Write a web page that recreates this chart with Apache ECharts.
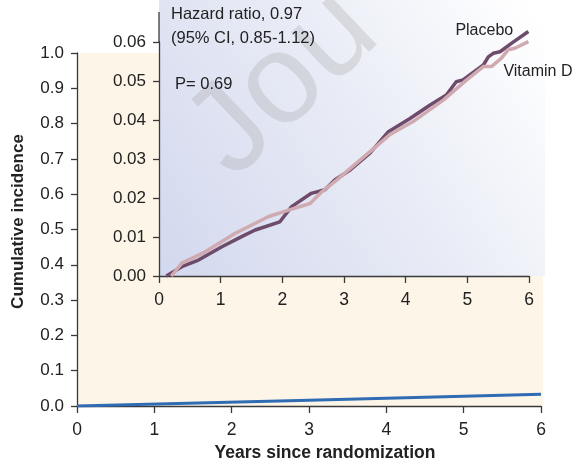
<!DOCTYPE html>
<html>
<head>
<meta charset="utf-8">
<script src="https://cdn.jsdelivr.net/npm/echarts/dist/echarts.min.js"></script>
<style>
html,body{margin:0;padding:0;background:#ffffff;}
#main{width:575px;height:464px;}
</style>
</head>
<body>
<div id="main"></div>
<script>
// ---- data ----
const outerXTicks = [0, 1, 2, 3, 4, 5, 6];
const outerYMax = 1.0;
const insetYMax = 0.06;
const overallLine = [[0, 0], [3, 0.016], [6, 0.033]];
const placebo = [[0.12,0],[0.37,0.0024],[0.64,0.0041],[1.02,0.0075],[1.34,0.0101],[1.56,0.0118],[1.96,0.0139],[2.15,0.0178],[2.47,0.0212],[2.69,0.0221],[2.85,0.0246],[3.10,0.0272],[3.42,0.0315],[3.72,0.037],[4.07,0.0404],[4.39,0.0438],[4.66,0.0464],[4.82,0.0498],[4.93,0.0503],[5.26,0.0541],[5.34,0.0562],[5.42,0.0571],[5.53,0.0575],[5.72,0.0597],[5.99,0.0627]];
const vitaminD = [[0.2,0],[0.37,0.0033],[0.75,0.0062],[1.23,0.0109],[1.77,0.0152],[2.10,0.0169],[2.45,0.0186],[2.64,0.0216],[2.88,0.0246],[3.26,0.0297],[3.74,0.0362],[4.12,0.0396],[4.61,0.0451],[4.99,0.0503],[5.26,0.0537],[5.39,0.0537],[5.55,0.0558],[5.66,0.058],[5.77,0.0584],[5.99,0.0601]];
const seriesNames = ['Placebo', 'Vitamin D'];
const annotations = ['Hazard ratio, 0.97', '(95% CI, 0.85-1.12)', 'P= 0.69'];
const xAxisTitle = 'Years since randomization';
const yAxisTitle = 'Cumulative incidence';

const FONT = '"Liberation Sans", Arial, Helvetica, sans-serif';
const AX = '#3a3a3a';
const TXT = '#222222';

const chart = echarts.init(document.getElementById('main'), null, {renderer: 'canvas'});

const axisCommon = {
  axisLine: {show: true, lineStyle: {color: AX, width: 1.3}},
  axisTick: {show: true, length: 7, lineStyle: {color: AX, width: 1.3}},
  splitLine: {show: false},
};

const option = {
  animation: false,
  backgroundColor: '#ffffff',
  grid: [
    {left: 77, top: 53, width: 464, height: 353, show: false, containLabel: false, outerBoundsMode: 'none'},
    {left: 159, top: 42, width: 370, height: 234, show: false, containLabel: false, outerBoundsMode: 'none'}
  ],
  xAxis: [
    Object.assign({}, axisCommon, {
      gridIndex: 0, type: 'value', min: 0, max: 6, interval: 1,
      axisLabel: {margin: 15, fontSize: 17.5, color: TXT, fontFamily: FONT},
      name: xAxisTitle, nameLocation: 'middle', nameGap: 37,
      nameTextStyle: {fontSize: 17.5, fontWeight: 'bold', color: TXT, fontFamily: FONT, padding: [0, 0, 0, 32]}
    }),
    Object.assign({}, axisCommon, {
      gridIndex: 1, type: 'value', min: 0, max: 6, interval: 1,
      axisLabel: {margin: 15, fontSize: 17.5, color: TXT, fontFamily: FONT}
    })
  ],
  yAxis: [
    Object.assign({}, axisCommon, {
      gridIndex: 0, type: 'value', min: 0, max: outerYMax, interval: 0.1,
      axisTick: {show: true, length: 6, lineStyle: {color: AX, width: 1.3}},
      axisLabel: {margin: 13, fontSize: 17, color: TXT, fontFamily: FONT, formatter: v => v.toFixed(1)},
      name: yAxisTitle, nameLocation: 'middle', nameGap: 50, nameRotate: 90,
      nameTextStyle: {fontSize: 17, fontWeight: 'bold', color: TXT, fontFamily: FONT, padding: [0, 0, 0, 16]}
    }),
    Object.assign({}, axisCommon, {
      gridIndex: 1, type: 'value', min: 0, max: insetYMax, interval: 0.01,
      axisTick: {show: true, length: 6, lineStyle: {color: AX, width: 1.3}},
      axisLabel: {margin: 13, fontSize: 17, color: TXT, fontFamily: FONT, formatter: v => v.toFixed(2)}
    })
  ],
  graphic: [
    // outer cream background
    {type: 'rect', z: -100, silent: true, shape: {x: 77, y: 53, width: 466, height: 353}, style: {fill: '#fdf6e8'}},
    // inset gradient background
    {type: 'rect', z: -90, silent: true, shape: {x: 159, y: 0, width: 386, height: 276},
      style: {fill: new echarts.graphic.LinearGradient(0, 1, 1, 0.1, [
        {offset: 0, color: '#d2d8ee'},
        {offset: 0.55, color: '#e9ecf6'},
        {offset: 1, color: '#ffffff'}
      ])}},
    // inset y-axis extension above 0.06
    {type: 'line', z: 5, silent: true, shape: {x1: 159, y1: 12, x2: 159, y2: 42}, style: {stroke: AX, lineWidth: 1.3}},
    // watermark
    {type: 'text', z: 50, silent: true, x: 284, y: 84, rotation: 0.76,
      style: {text: 'Jou', fontSize: 128, fontFamily: FONT, fill: 'rgba(165,165,165,0.3)', textVerticalAlign: 'middle', textAlign: 'center'}},
    // annotations
    {type: 'text', z: 60, x: 171, y: 6, style: {text: annotations[0], fontSize: 16.5, fontFamily: FONT, fill: TXT}},
    {type: 'text', z: 60, x: 171, y: 30, style: {text: annotations[1], fontSize: 16.5, fontFamily: FONT, fill: TXT}},
    {type: 'text', z: 60, x: 175, y: 76, style: {text: annotations[2], fontSize: 16.5, fontFamily: FONT, fill: TXT}}
  ],
  series: [
    {
      name: 'Overall', type: 'line', xAxisIndex: 0, yAxisIndex: 0, data: overallLine,
      showSymbol: false, lineStyle: {color: '#2f6cb3', width: 3}, z: 3
    },
    {
      name: seriesNames[0], type: 'line', xAxisIndex: 1, yAxisIndex: 1, data: placebo, clip: false,
      showSymbol: false, lineStyle: {color: '#6e4b6b', width: 3.5}, z: 3,
      endLabel: {show: true, formatter: seriesNames[0], color: TXT, fontSize: 16, fontFamily: FONT, offset: [-81, -1]}
    },
    {
      name: seriesNames[1], type: 'line', xAxisIndex: 1, yAxisIndex: 1, data: vitaminD, clip: false,
      showSymbol: false, lineStyle: {color: '#cfaab1', width: 3.5}, z: 4,
      endLabel: {show: true, formatter: seriesNames[1], color: TXT, fontSize: 16, fontFamily: FONT, offset: [-33, 30]}
    }
  ]
};

chart.setOption(option);
</script>
</body>
</html>
